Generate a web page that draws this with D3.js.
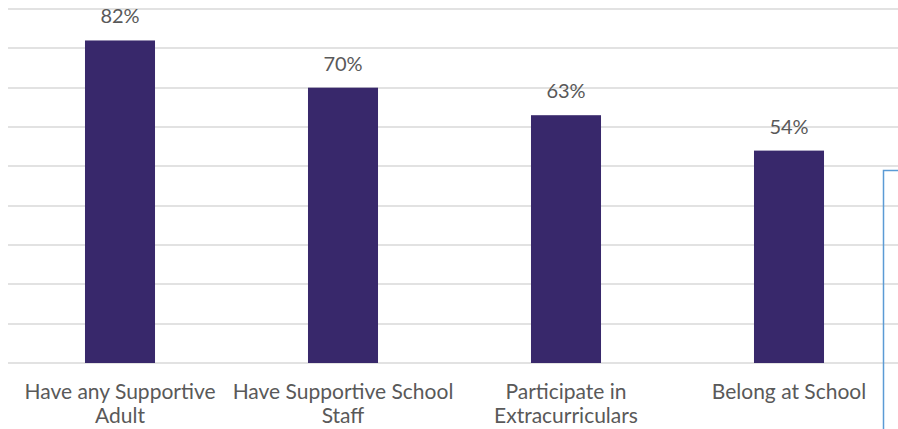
<!DOCTYPE html>
<html>
<head>
<meta charset="utf-8">
<script src="https://cdn.jsdelivr.net/npm/d3@7"></script>
<style>
  body { margin: 0; background: #fff; }
  svg { display: block; }
</style>
</head>
<body>
<div id="chart"></div>
<script>
var categories = ['Have any Supportive Adult', 'Have Supportive School Staff', 'Participate in Extracurriculars', 'Belong at School']
var tickLines = [['Have any Supportive', 'Adult'], ['Have Supportive School', 'Staff'], ['Participate in', 'Extracurriculars'], ['Belong at School']]
var values = [0.82, 0.70, 0.63, 0.54]
var gridTicks = [0, 0.1, 0.2, 0.3, 0.4, 0.5, 0.6, 0.7, 0.8, 0.9]

var width = 898, height = 429
var font = 'Lato, "Open Sans", sans-serif'

var svg = d3.select('#chart').append('svg')
    .attr('width', width)
    .attr('height', height)

var x = d3.scaleBand()
    .domain(categories)
    .range([8.5, 900.5])
    .paddingInner(0.686)
    .paddingOuter(0.343)

var y = d3.scaleLinear()
    .domain([0, 0.9])
    .range([363, 9])

// gridlines
svg.append('g')
    .selectAll('line')
    .data(gridTicks)
    .join('line')
    .attr('x1', 8)
    .attr('x2', width)
    .attr('y1', function(d) { return Math.round(y(d)) })
    .attr('y2', function(d) { return Math.round(y(d)) })
    .attr('stroke', '#d9d9d9')
    .attr('stroke-width', 1.5)

// bars
svg.append('g')
    .selectAll('rect')
    .data(values)
    .join('rect')
    .attr('x', function(d, i) { return x(categories[i]) })
    .attr('y', function(d) { return y(d) })
    .attr('width', x.bandwidth())
    .attr('height', function(d) { return y(0) - y(d) })
    .attr('fill', '#38286b')

// value labels
svg.append('g')
    .selectAll('text')
    .data(values)
    .join('text')
    .attr('x', function(d, i) { return x(categories[i]) + x.bandwidth() / 2 })
    .attr('y', function(d) { return y(d) - 17 })
    .attr('text-anchor', 'middle')
    .attr('fill', '#595959')
    .style('font-family', font)
    .style('font-size', '20px')
    .text(function(d) { return d3.format('.0%')(d) })

// category labels
var labels = svg.append('g')
    .selectAll('text')
    .data(categories)
    .join('text')
    .attr('text-anchor', 'middle')
    .attr('fill', '#595959')
    .style('font-family', font)
    .style('font-size', '21px')

labels.each(function(d, i) {
    var t = d3.select(this)
    var cx = x(d) + x.bandwidth() / 2
    tickLines[i].forEach(function(line, j) {
        t.append('tspan')
            .attr('x', cx)
            .attr('y', 399 + j * 24)
            .text(line)
    })
})

// blue bracket at the right edge
svg.append('path')
    .attr('d', 'M' + width + ',170.5 H883.5 V' + height)
    .attr('fill', 'none')
    .attr('stroke', '#5b9bd5')
    .attr('stroke-width', 1.5)
</script>
</body>
</html>
